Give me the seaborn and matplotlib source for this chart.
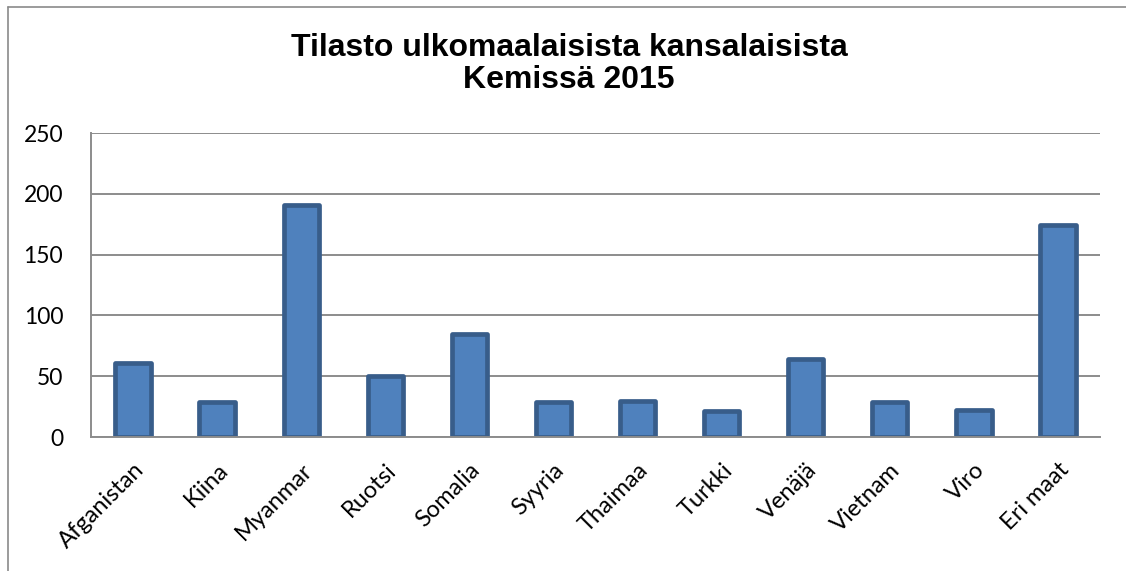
import numpy as np
import pandas as pd
import matplotlib.pyplot as plt
import seaborn as sns
from matplotlib.lines import Line2D

# Data
maat = ["Afganistan", "Kiina", "Myanmar", "Ruotsi", "Somalia", "Syyria",
        "Thaimaa", "Turkki", "Venäjä", "Vietnam", "Viro", "Eri maat"]
maara = [61, 29, 191, 50, 85, 29, 30, 21, 64, 29, 22, 174]
y_ticks = [0, 50, 100, 150, 200, 250]
otsikko = "Tilasto ulkomaalaisista kansalaisista\nKemissä 2015"

df = pd.DataFrame({"maa": maat, "maara": maara})

sns.set_style("white")
plt.rcParams['font.family'] = ['Lato', 'DejaVu Sans']
plt.rcParams['text.color'] = 'black'
plt.rcParams['xtick.color'] = 'black'
plt.rcParams['ytick.color'] = 'black'

W, H = 1126, 571
fig = plt.figure(figsize=(W / 100, H / 100), dpi=100)
ax = fig.add_axes([91 / W, 1 - 437 / H, (1100 - 91) / W, (437 - 133) / H])

grid_col = "#8c8c8c"
ax.set_axisbelow(True)
ax.yaxis.grid(True, color=grid_col, linewidth=1.4)

sns.barplot(data=df, x="maa", y="maara", ax=ax, color="#4F81BD",
            edgecolor="#385D8A", linewidth=3.4, width=0.42, saturation=1)
for p in ax.patches:
    p.set_joinstyle("round")

ax.set_ylim(0, 250)
ax.set_yticks(y_ticks)
ax.set_xlim(-0.5, len(maat) - 0.5)
ax.set_xlabel("")
ax.set_ylabel("")

for s in ["top", "right"]:
    ax.spines[s].set_visible(False)
for s in ["left", "bottom"]:
    ax.spines[s].set_color(grid_col)
    ax.spines[s].set_linewidth(1.4)

ax.tick_params(axis="y", length=0, pad=20, labelsize=16.5)
ax.tick_params(axis="x", length=0, pad=16, labelsize=17)
plt.setp(ax.get_xticklabels(), rotation=45, ha="right", va="top",
         rotation_mode="anchor")

# chart frame (only top and left edges show in the picture)
fig.add_artist(Line2D([8 / W, 1.0], [1 - 7 / H, 1 - 7 / H],
                      transform=fig.transFigure, color="#8a8a8a", lw=1.2))
fig.add_artist(Line2D([8 / W, 8 / W], [0, 1 - 7 / H],
                      transform=fig.transFigure, color="#8a8a8a", lw=1.2))

fig.text(569 / W, 1 - 64 / H, otsikko, ha="center", va="center",
         fontsize=23, fontweight="bold", family=["Liberation Sans", "DejaVu Sans"],
         linespacing=1.13, color="black")

plt.savefig("out.png", dpi=100)
